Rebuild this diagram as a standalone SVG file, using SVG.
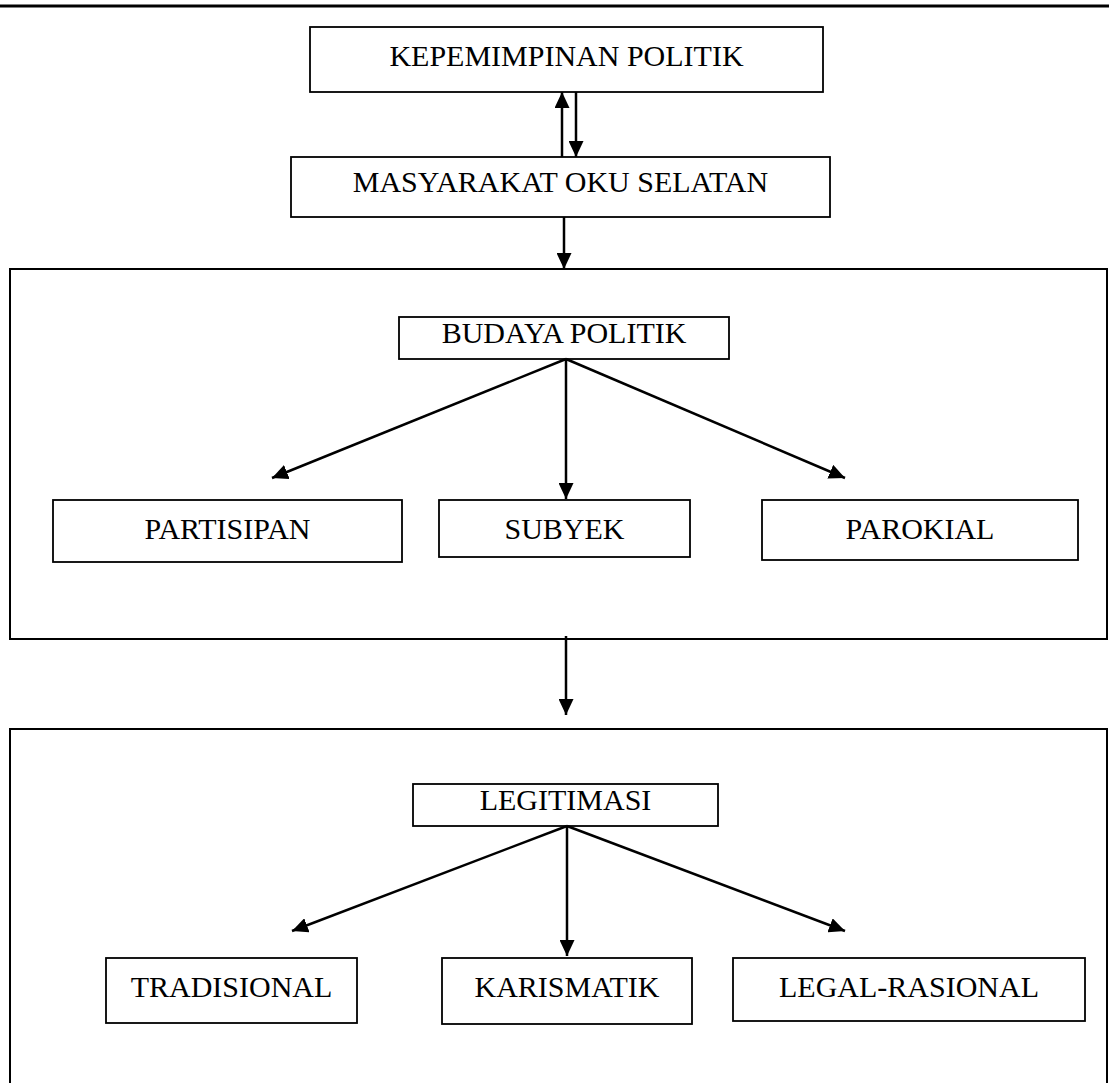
<svg xmlns="http://www.w3.org/2000/svg" width="1109" height="1083" viewBox="0 0 1109 1083">
<style>
.box{fill:#fff;stroke:#000;stroke-width:1.8}
.big{fill:none;stroke:#000;stroke-width:2}
.lbl{font-family:"Liberation Serif","Times New Roman",serif;font-size:30px;text-anchor:middle;fill:#000}
.conn line{stroke:#000;stroke-width:2.5;marker-end:url(#ah)}
</style>
<defs>
<marker id="ah" markerUnits="userSpaceOnUse" markerWidth="16" markerHeight="15" refX="16" refY="7.5" orient="auto">
<path d="M0,0 L16,7.5 L0,15 z" fill="#000"/>
</marker>
</defs>
<rect width="1109" height="1083" fill="#fff"/>
<line x1="0" y1="6" x2="1109" y2="6" stroke="#000" stroke-width="3"/>
<g id="frame-budaya"><rect class="big" x="10" y="269" width="1097" height="370"/></g>
<g id="frame-legitimasi"><rect class="big" x="10" y="729" width="1097" height="380"/></g>
<g id="n-kepemimpinan"><rect class="box" x="310" y="27" width="513" height="65"/><text class="lbl" x="566.5" y="66">KEPEMIMPINAN POLITIK</text></g>
<g id="n-masyarakat"><rect class="box" x="291" y="157" width="539" height="60"/><text class="lbl" x="560.5" y="192">MASYARAKAT OKU SELATAN</text></g>
<g id="n-budaya"><rect class="box" x="399" y="317" width="330" height="42"/><text class="lbl" x="564" y="343">BUDAYA POLITIK</text></g>
<g id="n-partisipan"><rect class="box" x="53" y="500" width="349" height="62"/><text class="lbl" x="227.5" y="539">PARTISIPAN</text></g>
<g id="n-subyek"><rect class="box" x="439" y="500" width="251" height="57"/><text class="lbl" x="564.5" y="539">SUBYEK</text></g>
<g id="n-parokial"><rect class="box" x="762" y="500" width="316" height="60"/><text class="lbl" x="920" y="539">PAROKIAL</text></g>
<g id="n-legitimasi"><rect class="box" x="413" y="784" width="305" height="42"/><text class="lbl" x="565.5" y="810">LEGITIMASI</text></g>
<g id="n-tradisional"><rect class="box" x="106" y="958" width="251" height="65"/><text class="lbl" x="231.5" y="997">TRADISIONAL</text></g>
<g id="n-karismatik"><rect class="box" x="442" y="958" width="250" height="66"/><text class="lbl" x="567" y="997">KARISMATIK</text></g>
<g id="n-legal"><rect class="box" x="733" y="958" width="352" height="63"/><text class="lbl" x="909" y="997">LEGAL-RASIONAL</text></g>
<g class="conn" id="connectors">
<line x1="562" y1="157" x2="562" y2="92"/>
<line x1="576" y1="92" x2="576" y2="157"/>
<line x1="564" y1="217" x2="564" y2="269"/>
<line x1="566" y1="359" x2="272" y2="478"/>
<line x1="566" y1="359" x2="566" y2="499"/>
<line x1="566" y1="359" x2="845" y2="478"/>
<line x1="566" y1="636" x2="566" y2="715"/>
<line x1="567" y1="826" x2="292" y2="931"/>
<line x1="567" y1="826" x2="567" y2="956"/>
<line x1="567" y1="826" x2="845" y2="931"/>
</g>
</svg>
